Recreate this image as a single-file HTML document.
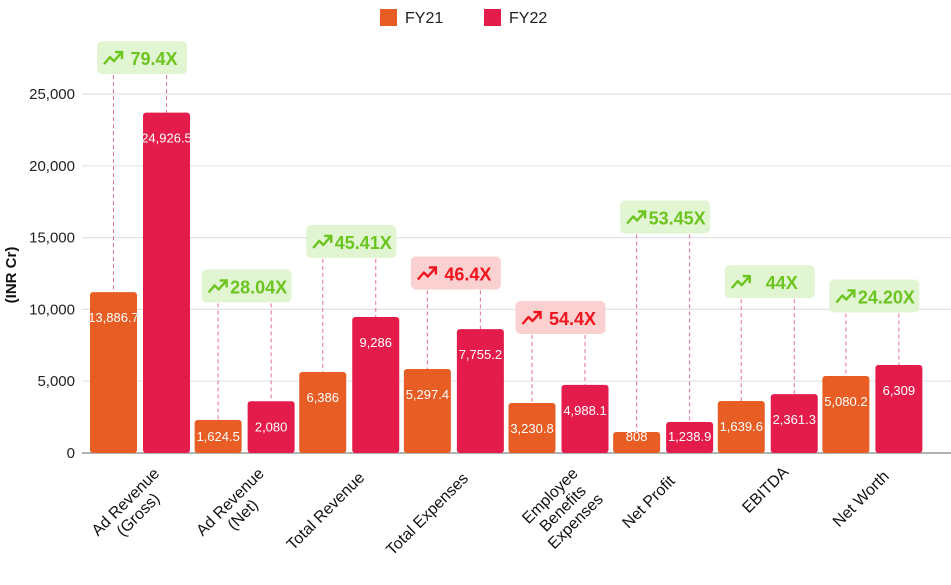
<!DOCTYPE html>
<html><head><meta charset="utf-8"><style>
body{margin:0;background:#fff;width:951px;height:580px;overflow:hidden;font-family:"Liberation Sans",sans-serif}
</style></head><body>
<svg id="chart" width="951" height="580" xmlns="http://www.w3.org/2000/svg"></svg>
<script>
const categories=[["Ad Revenue","(Gross)"],["Ad Revenue","(Net)"],["Total Revenue"],["Total Expenses"],["Employee","Benefits","Expenses"],["Net Profit"],["EBITDA"],["Net Worth"]];
const fy21Values=[11200,2300,5640,5850,3480,1460,3620,5360];
const fy22Values=[23700,3600,9470,8630,4740,2160,4100,6130];
const fy21Labels=["13,886.7","1,624.5","6,386","5,297.4","3,230.8","808","1,639.6","5,080.2"];
const fy22Labels=["24,926.5","2,080","9,286","7,755.2","4,988.1","1,238.9","2,361.3","6,309"];
const growthLabels=["79.4X","28.04X","45.41X","46.4X","54.4X","53.45X","44X","24.20X"];
const growthUp=[true,true,true,false,false,true,true,true];
const badgeLevels=[27500,11600,14700,12500,9400,16400,11900,10900];
const yTicks=[0,5000,10000,15000,20000,25000];
const yTickLabels=["0","5,000","10,000","15,000","20,000","25,000"];

const svg=document.getElementById('chart');
const NS="http://www.w3.org/2000/svg";
const y0=453,yTop=94,vTop=25000,x0=88,x1=925;
const y=v=>y0-(v/vTop)*(y0-yTop);
const gw=(x1-x0)/categories.length;
const gx=i=>x0+i*gw;
function el(t,a,p){const e=document.createElementNS(NS,t);for(const k in a)e.setAttribute(k,a[k]);(p||svg).appendChild(e);return e;}

yTicks.forEach((t,i)=>{
  const l=el('line',{x1:82,x2:951,y1:y(t),y2:y(t),stroke:i==0?'#999':'#e3e3e3','stroke-width':i==0?1.5:1.2});
  
  
  const tx=el('text',{x:75,y:y(t)+5,'text-anchor':'end','font-size':15,fill:'#222'});
  tx.textContent=yTickLabels[i];
  
  
});
const yt=el('text',{x:0,y:0,transform:'translate(16,275) rotate(-90)','text-anchor':'middle','font-size':15,'font-weight':'bold',fill:'#111'});
yt.textContent='(INR Cr)';



[['FY21','#E85D24',380],['FY22','#E31C4B',484]].forEach(([n,c,x])=>{
  const r=el('rect',{x:x,y:9,width:17,height:17,fill:c});
  
  
  const t=el('text',{x:x+25,y:23,'font-size':16,fill:'#222'});
  t.textContent=n;
  
  
});

categories.forEach((cat,i)=>{
  const bw=47,bx1=gx(i)+2,bx2=gx(i)+2+53;
  const c1=bx1+bw/2,c2=bx2+bw/2;
  const t1=y(fy21Values[i]),t2=y(fy22Values[i]);
  const by=y(badgeLevels[i]);
  const up=growthUp[i];
  [[c1,t1],[c2,t2]].forEach(([cx,t])=>{
    const d=el('line',{x1:cx,x2:cx,y1:by+17,y2:t,stroke:'#e8709a','stroke-width':1,'stroke-dasharray':'4,3'});
    
    
  });
  const b1=el('rect',{x:bx1,y:t1,width:bw,height:y0-t1,rx:3,fill:'#E85D24'});
  
  
  const b2=el('rect',{x:bx2,y:t2,width:bw,height:y0-t2,rx:3,fill:'#E31C4B'});
  
  
  [[c1,t1,fy21Labels[i]],[c2,t2,fy22Labels[i]]].forEach(([cx,t,s])=>{
    const ly=Math.min(t+30,441);
    const lt=el('text',{x:cx,y:ly,'text-anchor':'middle','font-size':13,fill:'#fff'});
    lt.textContent=s;
    
    
  });
  const bg=el('g',{});
  
  
  const w=90,bxL=gx(i)+9;
  el('rect',{x:bxL,y:by-17,width:w,height:33,rx:5,fill:up?'#E2F5D3':'#FBD0D0'},bg);
  const col=up?'#6CC51F':'#F0141E';
  const ax=bxL+7,ay=by+6;
  el('polyline',{points:`${ax},${ay} ${ax+6},${ay-7} ${ax+10},${ay-3} ${ax+18},${ay-12}`,fill:'none',stroke:col,'stroke-width':2.4,'stroke-linejoin':'round'},bg);
  el('polyline',{points:`${ax+11},${ay-12} ${ax+18},${ay-12} ${ax+18},${ay-5}`,fill:'none',stroke:col,'stroke-width':2.4},bg);
  const gt=el('text',{x:bxL+w/2+12,y:by+7,'text-anchor':'middle','font-size':18,'font-weight':'bold',fill:col},bg);
  gt.textContent=growthLabels[i];
  const g=el('g',{transform:`translate(${gx(i)+gw/2+10},466) rotate(-45)`});
  
  
  const maxLen=Math.max(...cat.map(s=>s.length))*8.6;
  cat.forEach((s,j)=>{
    const t=el('text',{x:-maxLen/2,y:13+j*18,'text-anchor':'middle','font-size':16,fill:'#111'},g);
    t.textContent=s;
  });
});
</script>
</body></html>
